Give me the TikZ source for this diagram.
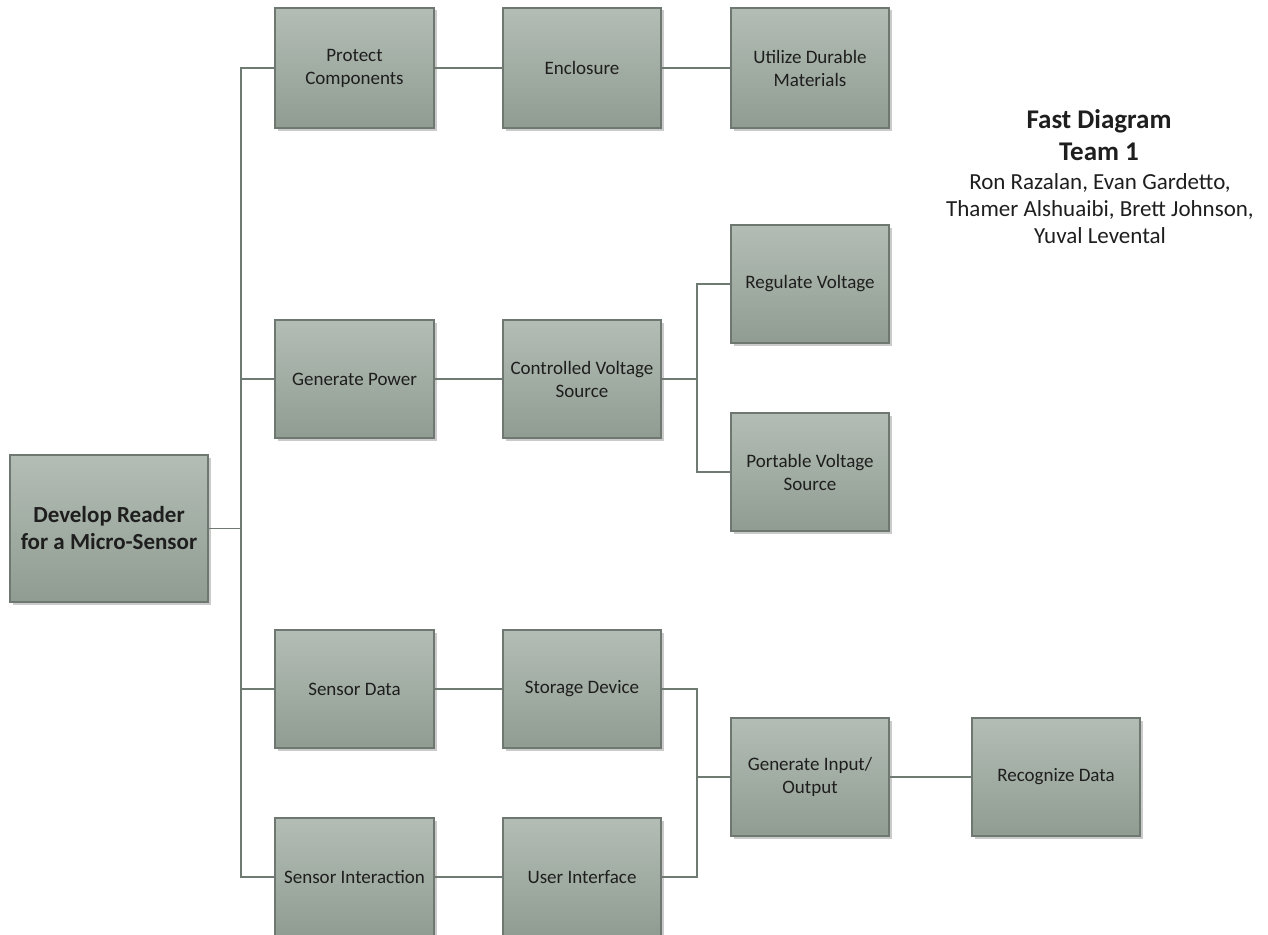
\documentclass[tikz,border=0pt]{standalone}
\usepackage{fontspec}
\setmainfont{Carlito}
\usetikzlibrary{shadows}
\definecolor{boxtop}{HTML}{B3BDB5}
\definecolor{boxbot}{HTML}{909C92}
\definecolor{boxline}{HTML}{6E7870}
\definecolor{conn}{HTML}{6F7A72}
\definecolor{txt}{HTML}{1E1E1E}
\tikzset{
  fbox/.style={draw=boxline, line width=1.2pt, top color=boxtop, bottom color=boxbot,
    text=txt, align=center, font=\fontsize{19}{23}\selectfont, inner sep=2pt,
    drop shadow={shadow xshift=2.5pt, shadow yshift=-2.5pt, fill=black!35, opacity=0.6}},
  wire/.style={draw=conn, line width=1.4pt},
  ttl/.style={text=txt, align=center, font=\bfseries\fontsize{27}{31}\selectfont},
  names/.style={text=txt, align=center, font=\fontsize{23}{27}\selectfont}
}
\begin{document}
\begin{tikzpicture}[x=1pt,y=-1pt]
\useasboundingbox (0,0) rectangle (1268,934);
\clip (0,0) rectangle (1268,934);
% boxes (centre, width, height)
\node[fbox, minimum width=198pt, minimum height=147pt, font=\bfseries\fontsize{23}{27}\selectfont] (dev) at (109,528.5) {Develop Reader\\for a Micro-Sensor};
\node[fbox, minimum width=159pt, minimum height=120pt] (prot) at (354.5,68) {Protect\\Components};
\node[fbox, minimum width=158pt, minimum height=120pt] (encl) at (582,68) {Enclosure};
\node[fbox, minimum width=158pt, minimum height=120pt] (util) at (810,68) {Utilize Durable\\Materials};
\node[fbox, minimum width=158pt, minimum height=118pt] (reg) at (810,284) {Regulate Voltage};
\node[fbox, minimum width=159pt, minimum height=118pt] (gen) at (354.5,379) {Generate Power};
\node[fbox, minimum width=158pt, minimum height=118pt] (ctrl) at (582,379) {Controlled Voltage\\Source};
\node[fbox, minimum width=158pt, minimum height=118pt] (port) at (810,472) {Portable Voltage\\Source};
\node[fbox, minimum width=159pt, minimum height=118pt] (sdat) at (354.5,689) {Sensor Data};
\node[fbox, minimum width=158pt, minimum height=118pt] (stor) at (582,689) {Storage Device};
\node[fbox, minimum width=158pt, minimum height=118pt] (gio) at (810,777) {Generate Input/\\Output};
\node[fbox, minimum width=168pt, minimum height=118pt] (recog) at (1056,777) {Recognize Data};
\node[fbox, minimum width=159pt, minimum height=118pt] (sint) at (354.5,877) {Sensor Interaction};
\node[fbox, minimum width=158pt, minimum height=118pt] (ui) at (582,877) {User Interface};
% junction coordinates
\coordinate (j1) at (241,528.5);
\coordinate (j2) at (697,379);
\coordinate (j3) at (697,777);
% connectors
\draw[wire] (dev.east) -- (j1);
\draw[wire] (prot.west) -| (j1) |- (sint.west);
\draw[wire] (gen.west) -- (gen.west -| j1);
\draw[wire] (sdat.west) -- (sdat.west -| j1);
\draw[wire] (prot) -- (encl);
\draw[wire] (encl) -- (util);
\draw[wire] (gen) -- (ctrl);
\draw[wire] (ctrl.east) -- (j2);
\draw[wire] (reg.west) -| (j2) |- (port.west);
\draw[wire] (sdat) -- (stor);
\draw[wire] (sint) -- (ui);
\draw[wire] (stor.east) -| (j3) |- (ui.east);
\draw[wire] (j3) -- (gio.west);
\draw[wire] (gio) -- (recog);
% title
\node[ttl] (title) at (1099,121) {Fast Diagram};
\node[ttl] (team) at (1099,152) {Team 1};
\node[names] (authors) at (1100,209) {Ron Razalan, Evan Gardetto,\\Thamer Alshuaibi, Brett Johnson,\\Yuval Levental};
\end{tikzpicture}
\end{document}
